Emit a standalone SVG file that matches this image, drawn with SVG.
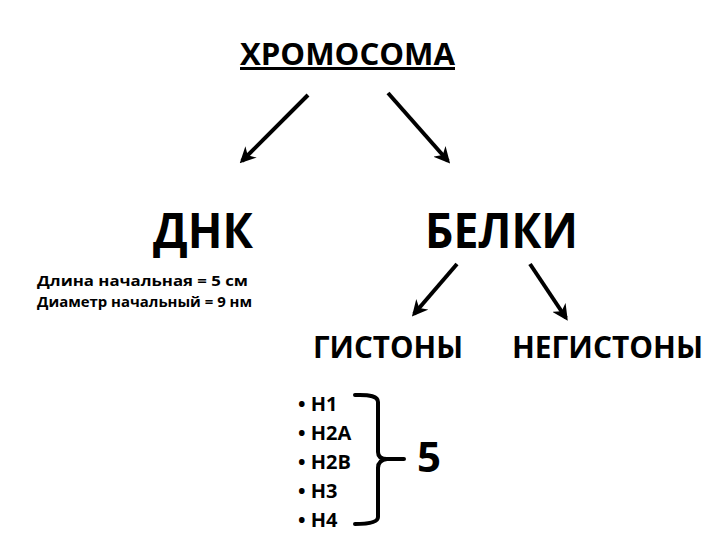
<svg xmlns="http://www.w3.org/2000/svg" width="720" height="540" viewBox="0 0 720 540">
<style>
text{font-family:"Open Sans","Liberation Sans",sans-serif;font-weight:bold;fill:#000}
.arr{stroke:#000;stroke-width:4;fill:none;marker-end:url(#ah)}
.br{stroke:#000;stroke-width:4;fill:none;stroke-linecap:round;stroke-linejoin:round}
</style>
<defs>
<marker id="ah" viewBox="0 0 10 10" refX="8" refY="5" markerWidth="4" markerHeight="4" orient="auto" markerUnits="strokeWidth">
<path d="M0,0 L10,5 L0,10 L3,5 Z" fill="#000"/>
</marker>
</defs>
<rect width="720" height="540" fill="#fff"/>
<g id="connectors">
<line class="arr" x1="308" y1="95" x2="242" y2="161"/>
<line class="arr" x1="388" y1="93" x2="448" y2="161"/>
<line class="arr" x1="457" y1="264" x2="414" y2="314"/>
<line class="arr" x1="530" y1="264" x2="566" y2="318"/>
<path class="br" d="M355,395 Q378,394 378,402 L378,452 Q378,459 387,459 L404,459 M387,459 Q378,460 378,468 L378,517 Q378,524 355,524"/>
</g>
<g id="chromosome">
<text x="240" y="65" font-size="30" textLength="215" lengthAdjust="spacingAndGlyphs">ХРОМОСОМА</text>
<rect x="240" y="67" width="215" height="3" fill="#000"/>
</g>
<g id="dna">
<text x="153" y="248" font-size="48" textLength="100" lengthAdjust="spacingAndGlyphs">ДНК</text>
<text x="37" y="286" font-size="15" textLength="211" lengthAdjust="spacingAndGlyphs">Длина начальная = 5 см</text>
<text x="37" y="307" font-size="15" textLength="215" lengthAdjust="spacingAndGlyphs">Диаметр начальный = 9 нм</text>
</g>
<g id="proteins">
<text x="425" y="248" font-size="48" textLength="153" lengthAdjust="spacingAndGlyphs">БЕЛКИ</text>
</g>
<g id="histones">
<text x="313" y="358" font-size="30" textLength="150" lengthAdjust="spacingAndGlyphs">ГИСТОНЫ</text>
<text x="298" y="411" font-size="20">• H1</text>
<text x="298" y="440" font-size="20">• H2A</text>
<text x="298" y="469" font-size="20">• H2B</text>
<text x="298" y="498" font-size="20">• H3</text>
<text x="298" y="527" font-size="20">• H4</text>
</g>
<g id="five">
<text x="417" y="472" font-size="42">5</text>
</g>
<g id="nonhistones">
<text x="512" y="358" font-size="30" textLength="191" lengthAdjust="spacingAndGlyphs">НЕГИСТОНЫ</text>
</g>
</svg>
